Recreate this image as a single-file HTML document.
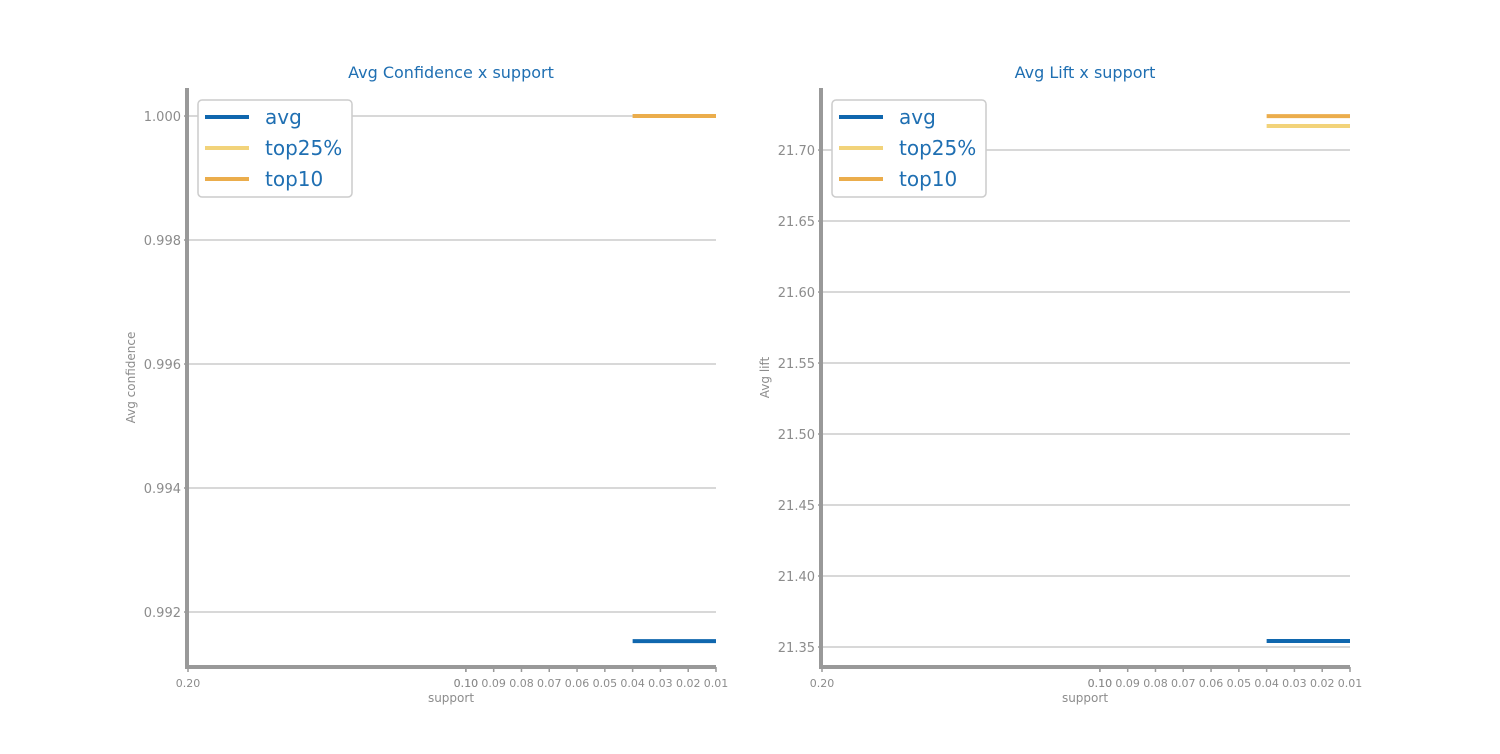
<!DOCTYPE html>
<html><head><meta charset="utf-8"><style>
body{margin:0;background:#fff;font-family:"DejaVu Sans","Liberation Sans",sans-serif}
</style></head><body>
<svg id="svg" width="1500" height="750" xmlns="http://www.w3.org/2000/svg" font-family="DejaVu Sans, Liberation Sans, sans-serif"></svg>
<script>
const xTicks=[0.20,0.10,0.10,0.09,0.08,0.07,0.06,0.05,0.04,0.03,0.02,0.01];
const xTickLabels=["0.20","0.10","0.10","0.09","0.08","0.07","0.06","0.05","0.04","0.03","0.02","0.01"];
const seriesX=[0.04,0.03,0.02,0.01];
const seriesNames=["avg","top25%","top10"];
const confAvg=[0.99153,0.99153,0.99153,0.99153];
const confTop25=[1.0,1.0,1.0,1.0];
const confTop10=[1.0,1.0,1.0,1.0];
const liftAvg=[21.3542,21.3542,21.3542,21.3542];
const liftTop25=[21.7169,21.7169,21.7169,21.7169];
const liftTop10=[21.7239,21.7239,21.7239,21.7239];
const confYTicks=[0.992,0.994,0.996,0.998,1.000];
const confYLabels=["0.992","0.994","0.996","0.998","1.000"];
const liftYTicks=[21.35,21.40,21.45,21.50,21.55,21.60,21.65,21.70];
const liftYLabels=["21.35","21.40","21.45","21.50","21.55","21.60","21.65","21.70"];
const colors=["#1067ae","#f2d37a","#ebad4c"];
const NS="http://www.w3.org/2000/svg";
const svg=document.getElementById('svg');
function mk(tag,attrs,parent,text){const e=document.createElementNS(NS,tag);for(const k in attrs)e.setAttribute(k,attrs[k]);if(text!==undefined)e.textContent=text;(parent||svg).appendChild(e);return e;}
function panel(cfg){
  const g=mk('g',{});
  
  
  const L=cfg.left,R=cfg.left+528,T=88,B=667;
  const xs=v=>L+(0.20-v)/(0.19)*(R-L);
  const ys=v=>B-(v-cfg.ymin)/(cfg.ymax-cfg.ymin)*(B-T);
  cfg.yt.forEach((v,i)=>{
    const y=ys(v);
    const gl=mk('line',{x1:L,x2:R,y1:y,y2:y,stroke:'#cccccc','stroke-width':1.5},g);
    
    
    mk('line',{x1:L-4,x2:L,y1:y,y2:y,stroke:'#999','stroke-width':1.5},g);
    const t=mk('text',{x:L-7,y:y+5,'text-anchor':'end','font-size':13,fill:'#8c8c8c'},g,cfg.yl[i]);
    
    
  });
  xTicks.forEach((v,i)=>{
    const x=xs(v);
    mk('line',{x1:x,x2:x,y1:B,y2:B+5,stroke:'#999','stroke-width':1.5},g);
    const t=mk('text',{x:x,y:B+20,'text-anchor':'middle','font-size':11,fill:'#8c8c8c'},g,xTickLabels[i]);
    
    
  });
  const series=cfg.series;
  series.forEach((s,i)=>{
    const pts=seriesX.map((x,j)=>xs(x)+','+ys(s[j])).join(' ');
    const p=mk('polyline',{points:pts,fill:'none',stroke:colors[i],'stroke-width':4},g);
    
    
  });
  const ax=mk('line',{x1:L-1,x2:R,y1:B,y2:B,stroke:'#999','stroke-width':4},g);
  
  
  const ay=mk('line',{x1:L-1,x2:L-1,y1:T,y2:B+2,stroke:'#999','stroke-width':4},g);
  
  
  const tt=mk('text',{x:(L+R)/2-1,y:78,'text-anchor':'middle','font-size':16,fill:'#1f6fb2'},g,cfg.title);
  
  
  const xl=mk('text',{x:(L+R)/2-1,y:702,'text-anchor':'middle','font-size':12,fill:'#8c8c8c'},g,'support');
  
  
  const yy=(T+B)/2;
  const yl=mk('text',{x:L-53,y:yy,'text-anchor':'middle','font-size':12,fill:'#8c8c8c',transform:`rotate(-90 ${L-53} ${yy})`},g,cfg.ylabel);
  
  
  const lg=mk('g',{},g);
  
  
  mk('rect',{x:L+10,y:100,width:154,height:97,rx:4,fill:'#fff',stroke:'#cccccc','stroke-width':1.5},lg);
  seriesNames.forEach((n,i)=>{
    const y=117+i*31;
    mk('line',{x1:L+17,x2:L+61,y1:y,y2:y,stroke:colors[i],'stroke-width':4},lg);
    const t=mk('text',{x:L+77,y:y+7,'font-size':20,fill:'#1f6fb2'},lg,n);
    
    
  });
}
panel({name:'confidence-panel',left:188,ymin:0.991113,ymax:1.000452,yt:confYTicks,yl:confYLabels,series:[confAvg,confTop25,confTop10],title:'Avg Confidence x support',ylabel:'Avg confidence'});
panel({name:'lift-panel',left:822,ymin:21.3359,ymax:21.7437,yt:liftYTicks,yl:liftYLabels,series:[liftAvg,liftTop25,liftTop10],title:'Avg Lift x support',ylabel:'Avg lift'});
</script>
</body></html>
